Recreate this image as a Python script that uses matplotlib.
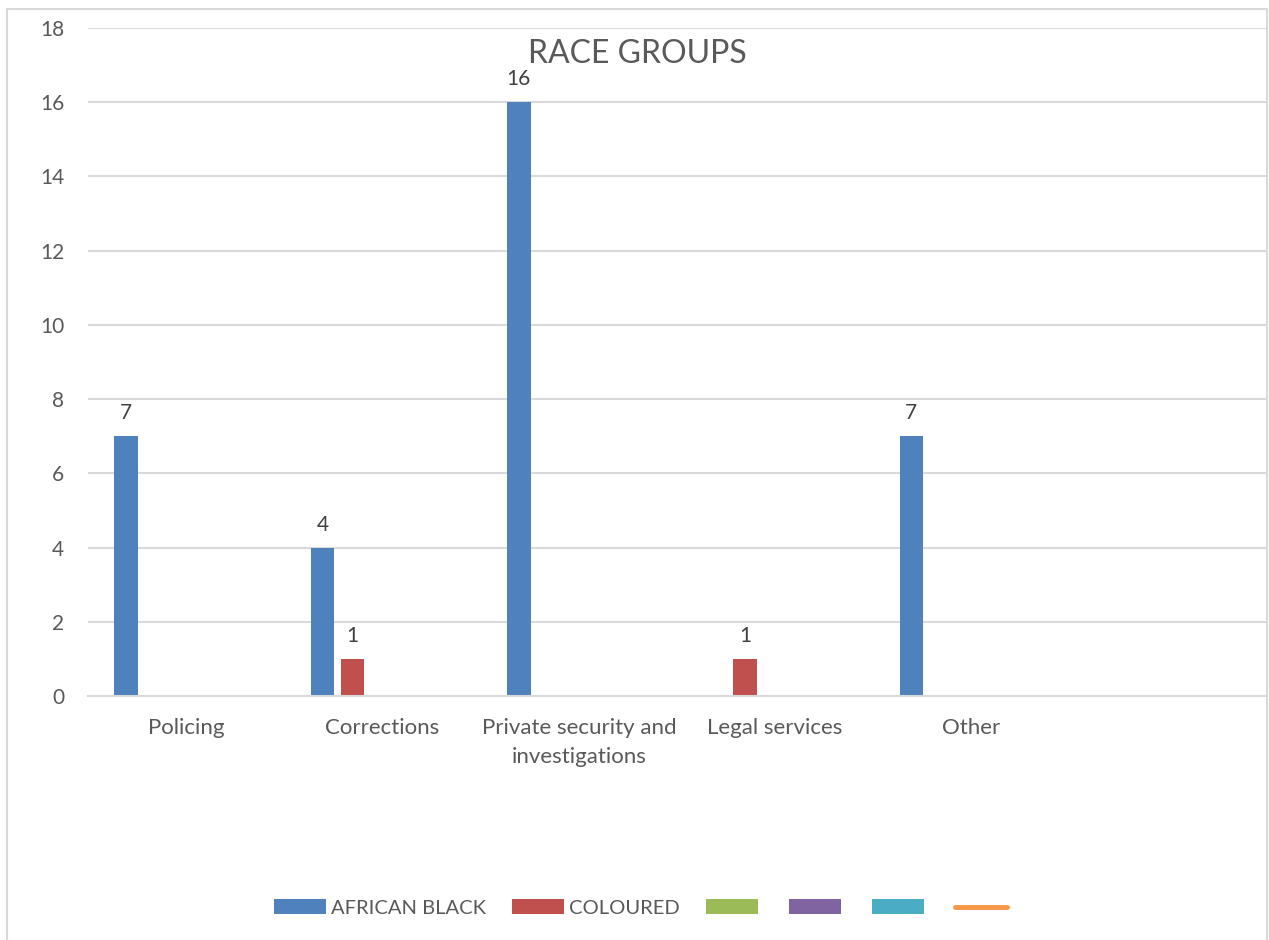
import numpy as np
import matplotlib.pyplot as plt
from matplotlib.patches import Rectangle, Patch
from matplotlib.lines import Line2D

plt.rcParams['font.family'] = ['Lato', 'DejaVu Sans']

categories = ["Policing", "Corrections", "Private security and\ninvestigations",
              "Legal services", "Other", ""]
african_black = [7, 4, 16, np.nan, 7, np.nan]
coloured = [np.nan, 1, np.nan, 1, np.nan, np.nan]
series3 = [np.nan] * 6
series4 = [np.nan] * 6
series5 = [np.nan] * 6
series_names = ["AFRICAN BLACK", "COLOURED", "", "", ""]
bar_colors = ["#4f81bd", "#c0504d", "#9bbb59", "#8064a2", "#4bacc6"]
line_color = "#f79646"
y_ticks = [0, 2, 4, 6, 8, 10, 12, 14, 16, 18]

text_color = "#595959"
grid_color = "#d9d9d9"

W, H = 1269, 940
fig = plt.figure(figsize=(W / 100, H / 100), dpi=100)
fig.patches.append(Rectangle((7 / W, -0.05), 1260 / W, 1 - 9 / H + 0.05,
                             transform=fig.transFigure, fill=False,
                             edgecolor=grid_color, linewidth=1.5))

ax = fig.add_axes([88 / W, 1 - 696 / H, (1266 - 88) / W, (696 - 28) / H])
x = np.arange(len(categories))
step = 0.153
width = 0.12
all_series = [african_black, coloured, series3, series4, series5]
for i, (vals, col) in enumerate(zip(all_series, bar_colors)):
    pos = x + (i - 2) * step
    ax.bar(pos, vals, width=width, color=col, zorder=3)
    for px, v in zip(pos, vals):
        if not np.isnan(v):
            ax.text(px, v + 0.35, f"{v:g}", ha="center", va="bottom",
                    fontsize=15, color="#404040")

ax.set_xlim(-0.5, len(categories) - 0.5)
ax.set_ylim(0, 18)
ax.set_yticks(y_ticks)
ax.set_xticks(x)
ax.set_xticklabels(categories, fontsize=16, color=text_color, linespacing=1.6)
ax.tick_params(axis="y", labelsize=15, labelcolor=text_color, length=0, pad=17)
ax.tick_params(axis="x", length=0, pad=15.5)
ax.yaxis.grid(True, color=grid_color, linewidth=1.5, zorder=0)
for s in ["top", "right", "left"]:
    ax.spines[s].set_visible(False)
ax.spines["bottom"].set_color(grid_color)
ax.spines["bottom"].set_linewidth(1.5)
ax.spines["bottom"].set_zorder(4)

fig.text(637 / W, 1 - 54 / H, "RACE GROUPS", ha="center", va="center",
         fontsize=23, color=text_color)

legend_size = 14.5
fs_px = legend_size * 100 / 72
handles = [Patch(facecolor=c, edgecolor="none") for c in bar_colors]
handles.append(Line2D([0], [0], color=line_color, linewidth=3.5,
                      solid_capstyle="round"))
labels = series_names + [""]
fig.legend(handles, labels, loc="center", bbox_to_anchor=(643 / W, 1 - 908 / H),
           ncol=6, frameon=False, fontsize=legend_size,
           handlelength=52 / fs_px, handleheight=14 / fs_px,
           handletextpad=5 / fs_px, columnspacing=26 / fs_px,
           labelcolor=text_color)

fig.savefig("out.png", dpi=100, facecolor="white")
